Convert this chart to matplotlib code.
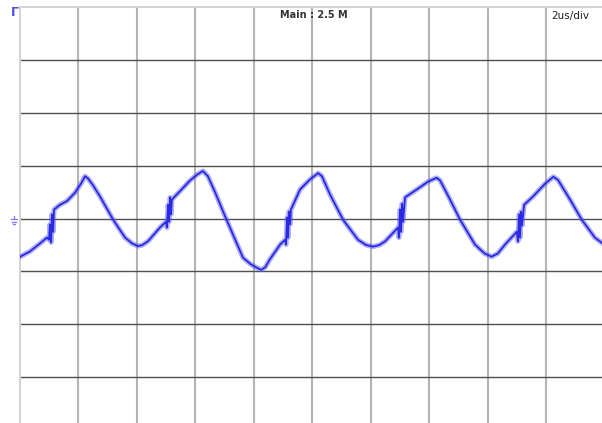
import matplotlib
matplotlib.use("Agg")
import matplotlib.pyplot as plt
from matplotlib.lines import Line2D

# time in microseconds (2 us/div), amplitude in screen divisions
time_us = [0.02, 0.36, 0.70, 0.94, 1.01, 1.04, 1.08, 1.11, 1.15, 1.18, 1.38, 1.62, 1.90,
           2.10, 2.24, 2.34, 2.50, 2.75, 3.20, 3.61, 3.85, 4.05, 4.20, 4.39, 4.80, 5.01,
           5.04, 5.08, 5.11, 5.15, 5.18, 5.21, 5.49, 5.83, 6.07, 6.27, 6.44, 6.70, 7.03,
           7.64, 7.90, 8.05, 8.26, 8.40, 8.56, 8.91, 9.08, 9.11, 9.15, 9.18, 9.21, 9.25,
           9.28, 9.59, 9.93, 10.21, 10.34, 10.62, 11.06, 11.57, 11.85, 12.09, 12.30, 12.50,
           12.94, 12.97, 13.01, 13.04, 13.08, 13.11, 13.18, 13.58, 13.97, 14.26, 14.38,
           14.70, 15.06, 15.57, 15.90, 16.14, 16.35, 16.60, 17.00, 17.04, 17.08, 17.11,
           17.15, 17.18, 17.25, 17.56, 17.97, 18.25, 18.41, 18.82, 19.22, 19.67, 19.91]
volts_div = [-0.72, -0.62, -0.47, -0.36, -0.40, -0.11, -0.45, 0.08, -0.25, 0.17, 0.26, 0.33, 0.49,
             0.66, 0.80, 0.76, 0.64, 0.42, -0.02, -0.36, -0.47, -0.52, -0.50, -0.43, -0.17, -0.06,
             -0.17, 0.26, -0.06, 0.40, 0.08, 0.36, 0.52, 0.72, 0.83, 0.90, 0.80, 0.48, 0.04,
             -0.74, -0.86, -0.91, -0.97, -0.92, -0.77, -0.49, -0.40, -0.49, 0.02, -0.36, 0.13, -0.11,
             0.17, 0.55, 0.74, 0.86, 0.80, 0.45, -0.02, -0.40, -0.50, -0.53, -0.50, -0.43,
             -0.17, -0.36, 0.17, -0.25, 0.28, -0.06, 0.40, 0.55, 0.70, 0.77, 0.72,
             0.38, -0.02, -0.49, -0.66, -0.72, -0.66, -0.49, -0.25, -0.43, 0.08, -0.36,
             0.13, -0.13, 0.26, 0.42, 0.66, 0.79, 0.73, 0.36, -0.02, -0.36, -0.46]

x_ticks = [0, 2, 4, 6, 8, 10, 12, 14, 16, 18, 20]
y_ticks = [-4, -3, -2, -1, 0, 1, 2, 3, 4]

fig = plt.figure(figsize=(6.02, 4.23), dpi=100)
ax = fig.add_axes([0.0324, -0.017, 0.9718, 1.0005])
ax.set_xlim(0, 20)
ax.set_ylim(-4, 4)

for xv in x_ticks[1:-1]:
    ax.axvline(xv, color="#b4b4b4", lw=1.5, zorder=1)
for yv in y_ticks[1:-1]:
    ax.axhline(yv, color="#505050", lw=1.0, zorder=2)

for s in ax.spines.values():
    s.set_color("#d4d4d4")
    s.set_linewidth(1.5)
ax.set_xticks([])
ax.set_yticks([])

# waveform: wide faint band for the noise, then the core trace
ax.plot(time_us, volts_div, color="#5c5cf2", lw=3.6, alpha=0.5, zorder=3,
        solid_joinstyle="round")
ax.plot(time_us, volts_div, color="#2a2ae2", lw=1.3, zorder=4, solid_joinstyle="round")

fig.text(314 / 602, 1 - 15 / 423, "Main : 2.5 M", ha="center", va="center",
         fontsize=7, fontweight="bold", family=["Liberation Sans Narrow", "DejaVu Sans"],
         color="#333333")
fig.text(551 / 602, 1 - 16 / 423, "2us/div", ha="left", va="center",
         fontsize=7.5, family=["Liberation Sans Narrow", "DejaVu Sans"], color="#222222")

# trigger marker
fig.text(11 / 602, 1 - 13 / 423, "Γ", ha="left", va="center", fontsize=9,
         color="#5050e0", fontweight="bold")

# ground marker (no installed font has the glyph, so draw it)
W, H = 602.0, 423.0
gnd = [((14, 14), (216, 219)), ((11, 17), (219, 219)),
       ((12, 16), (221.5, 221.5)), ((13, 15), (224, 224))]
for xs, ys in gnd:
    fig.add_artist(Line2D([x / W for x in xs], [1 - y / H for y in ys],
                          color="#7a7af2", lw=0.9))

fig.savefig("out.png", dpi=100)
